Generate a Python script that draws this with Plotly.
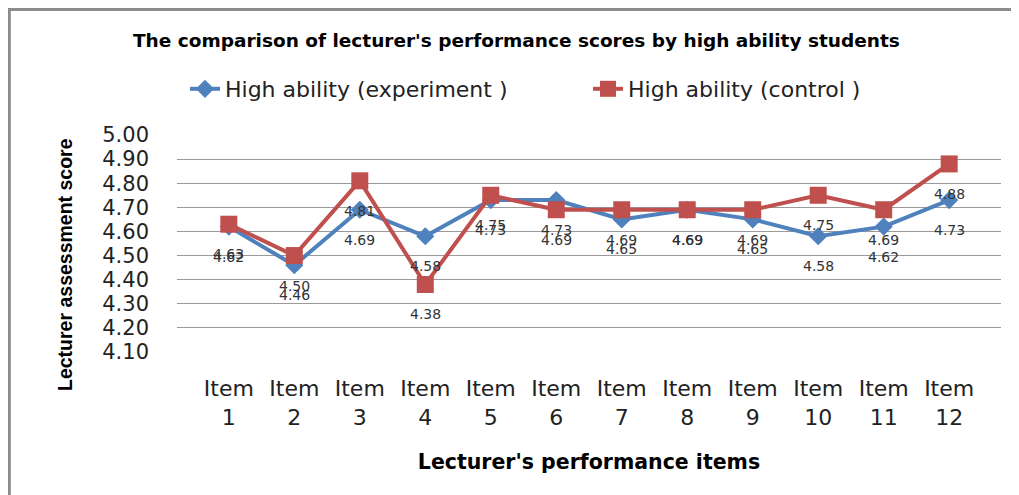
import plotly.graph_objects as go

items = ["Item<br>1", "Item<br>2", "Item<br>3", "Item<br>4", "Item<br>5", "Item<br>6",
         "Item<br>7", "Item<br>8", "Item<br>9", "Item<br>10", "Item<br>11", "Item<br>12"]
experiment = [4.62, 4.46, 4.69, 4.58, 4.73, 4.73, 4.65, 4.69, 4.65, 4.58, 4.62, 4.73]
control = [4.63, 4.50, 4.81, 4.38, 4.75, 4.69, 4.69, 4.69, 4.69, 4.75, 4.69, 4.88]
y_ticks = [4.10, 4.20, 4.30, 4.40, 4.50, 4.60, 4.70, 4.80, 4.90, 5.00]

BLUE = "#4F81BD"
RED = "#C0504D"

fig = go.Figure()
fig.add_trace(go.Scatter(
    x=items, y=experiment, mode="lines+markers", name="High ability (experiment )",
    line=dict(color=BLUE, width=4),
    marker=dict(symbol="diamond", size=14, color=BLUE),
    legend="legend",
))
fig.add_trace(go.Scatter(
    x=items, y=control, mode="lines+markers", name="High ability (control )",
    line=dict(color=RED, width=4),
    marker=dict(symbol="square", size=17, color=RED),
    legend="legend2",
))

annotations = []
for series in (experiment, control):
    for xi, yi in zip(items, series):
        annotations.append(dict(
            x=xi, y=yi, xref="x", yref="y", text=f"{yi:.2f}", showarrow=False,
            yshift=-30, font=dict(family="DejaVu Sans", size=14, color="#333333"),
        ))

annotations.append(dict(
    text="<b>The comparison of lecturer's performance scores by high ability students</b>",
    xref="paper", yref="paper", x=0.4126, y=1, yshift=95, showarrow=False,
    font=dict(family="DejaVu Sans", size=18.5, color="black"),
    xanchor="center", yanchor="middle",
))
annotations.append(dict(
    text="<b>Lecturer assessment score</b>", textangle=-90,
    xref="paper", yref="paper", x=-0.1359, y=0.401, showarrow=False,
    font=dict(family="Liberation Sans, Arial, sans-serif", size=19.5, color="black"),
    xanchor="center", yanchor="middle",
))

legend_font = dict(family="DejaVu Sans", size=22, color="#222222")

# the page body has an 8px margin, so the figure is 8px smaller than the window
fig.update_layout(
    width=1011, height=487,
    margin=dict(l=169, r=18, t=127, b=143),
    paper_bgcolor="white", plot_bgcolor="white",
    showlegend=True,
    legend=dict(orientation="h", x=0.0097, y=1.212, xanchor="left", yanchor="middle",
                font=legend_font, bgcolor="rgba(0,0,0,0)"),
    legend2=dict(orientation="h", x=0.4988, y=1.212, xanchor="left", yanchor="middle",
                 font=legend_font, bgcolor="rgba(0,0,0,0)"),
    annotations=annotations,
    xaxis=dict(
        type="category", showgrid=False, showline=False, zeroline=False, ticks="",
        automargin=False, ticklabelstandoff=21,
        tickfont=dict(family="DejaVu Sans", size=22, color="#222222"),
        title=dict(text="<b>Lecturer's performance items</b>", standoff=26,
                   font=dict(family="DejaVu Sans", size=20.5, color="black")),
    ),
    yaxis=dict(
        range=[4.10, 5.00], tickvals=y_ticks, ticktext=[f"{v:.2f}" for v in y_ticks],
        showgrid=True, gridcolor="#9a9a9a", gridwidth=1, zeroline=False, showline=False,
        ticks="", ticklabelstandoff=27, automargin=False,
        tickfont=dict(family="DejaVu Sans", size=21, color="#222222"),
    ),
    shapes=[
        dict(type="line", xref="paper", yref="paper", x0=-0.211, x1=1.03, y0=1.578, y1=1.578,
             line=dict(color="#8c8c8c", width=3)),
        dict(type="line", xref="paper", yref="paper", x0=-0.2035, x1=-0.2035, y0=-0.7, y1=1.578,
             line=dict(color="#8c8c8c", width=3)),
    ],
)

fig.write_html("out.html")
